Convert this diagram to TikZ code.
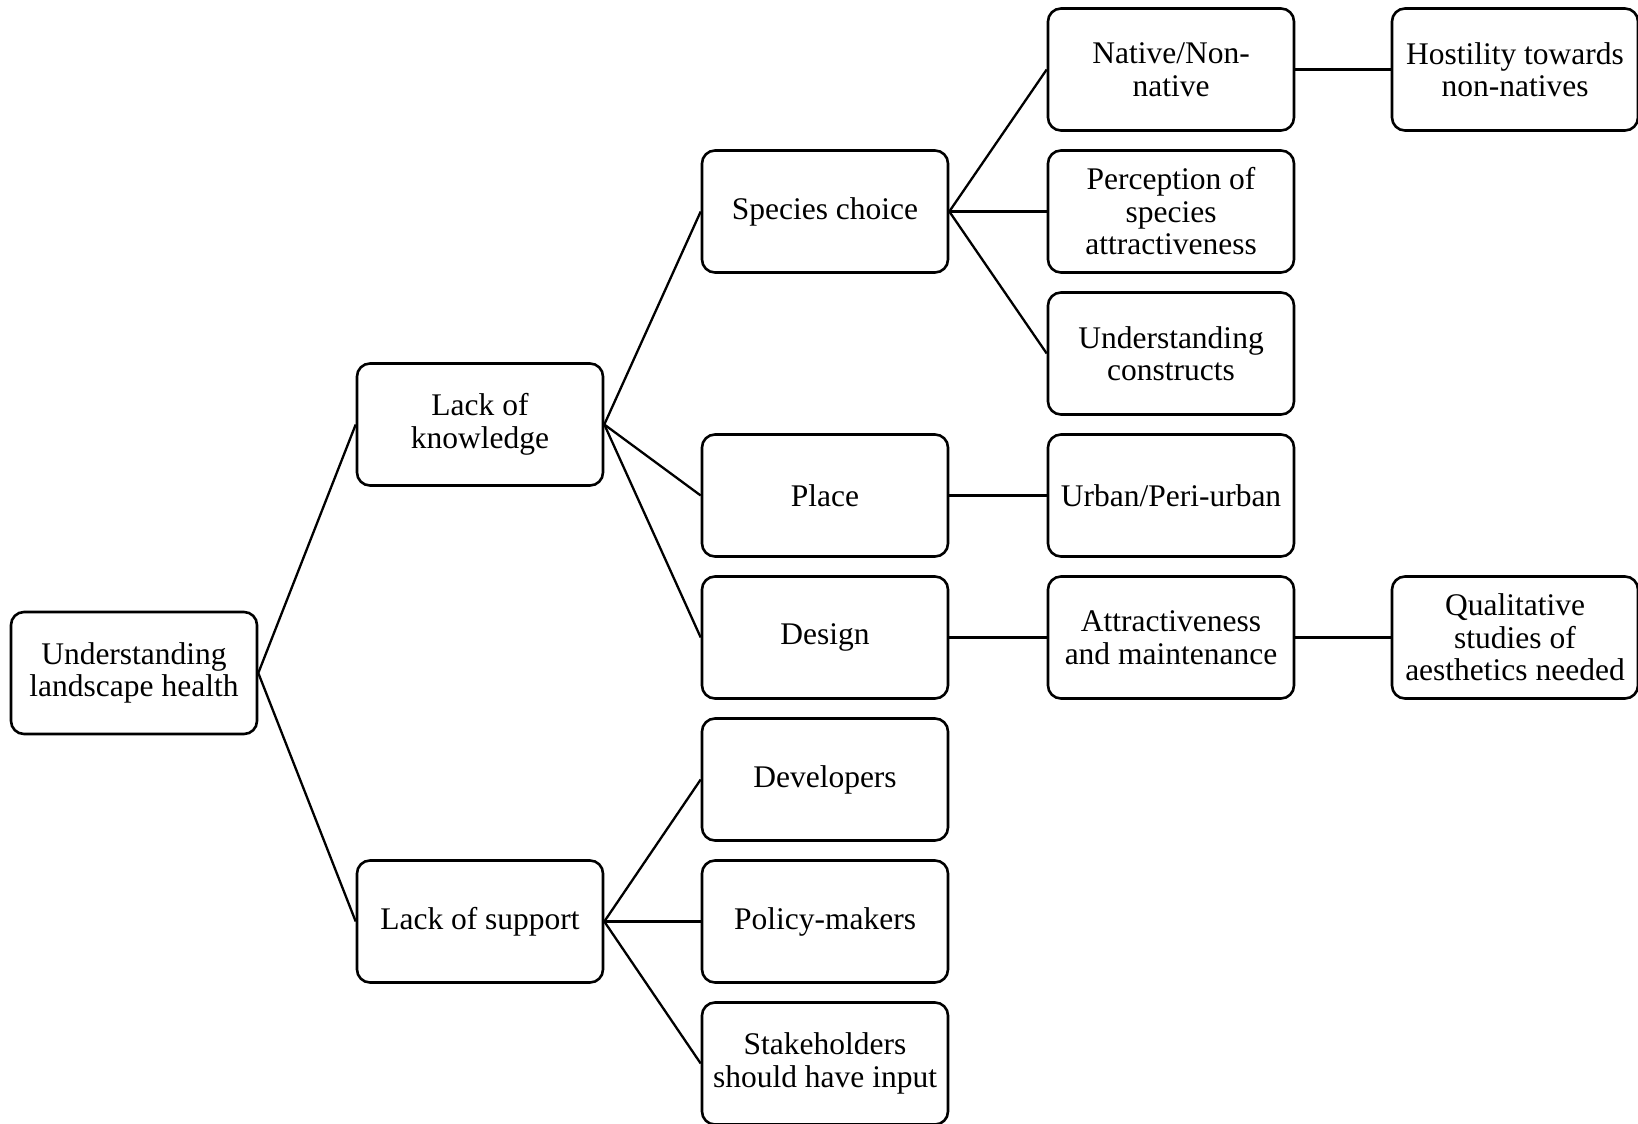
\documentclass[tikz,border=0pt]{standalone}
\usepackage{fontspec}
\setmainfont{Liberation Serif}
\begin{document}
\begin{tikzpicture}[x=1pt,y=-1pt,
  box/.style={draw=black, fill=white, line width=2.6pt, rounded corners=13pt,
    minimum width=246pt, minimum height=122pt, inner sep=4pt, align=center,
    font=\fontsize{31.5}{32.5}\selectfont},
  link/.style={draw=black, line width=2.3pt}]
\useasboundingbox (0,0) rectangle (1638,1124);
% columns: 134, 480, 825, 1171, 1515 ; rows: 69.5 + 142k
\node[box] (root) at (134,673) {Understanding\\landscape health};
\node[box] (lk) at (480,424.5) {Lack of\\knowledge};
\node[box] (ls) at (480,921.5) {Lack of support};
\node[box] (sc) at (825,211.5) {Species choice};
\node[box] (pl) at (825,495.5) {Place};
\node[box] (de) at (825,637.5) {Design};
\node[box] (dv) at (825,779.5) {Developers};
\node[box] (pm) at (825,921.5) {Policy-makers};
\node[box] (sh) at (825,1063.5) {Stakeholders\\should have input};
\node[box] (nn) at (1171,69.5) {Native/Non-\\native};
\node[box] (pe) at (1171,211.5) {Perception of\\species\\attractiveness};
\node[box] (uc) at (1171,353.5) {Understanding\\constructs};
\node[box] (ur) at (1171,495.5) {Urban/Peri-urban};
\node[box] (am) at (1171,637.5) {Attractiveness\\and maintenance};
\node[box] (ho) at (1515,69.5) {Hostility towards\\non-natives};
\node[box] (qs) at (1515,637.5) {Qualitative\\studies of\\aesthetics needed};
\draw[link] (root.east) -- (lk.west);
\draw[link] (root.east) -- (ls.west);
\draw[link] (lk.east) -- (sc.west);
\draw[link] (lk.east) -- (pl.west);
\draw[link] (lk.east) -- (de.west);
\draw[link] (ls.east) -- (dv.west);
\draw[link] (ls.east) -- (pm.west);
\draw[link] (ls.east) -- (sh.west);
\draw[link] (sc.east) -- (nn.west);
\draw[link] (sc.east) -- (pe.west);
\draw[link] (sc.east) -- (uc.west);
\draw[link] (pl.east) -- (ur.west);
\draw[link] (de.east) -- (am.west);
\draw[link] (nn.east) -- (ho.west);
\draw[link] (am.east) -- (qs.west);
\end{tikzpicture}
\end{document}
